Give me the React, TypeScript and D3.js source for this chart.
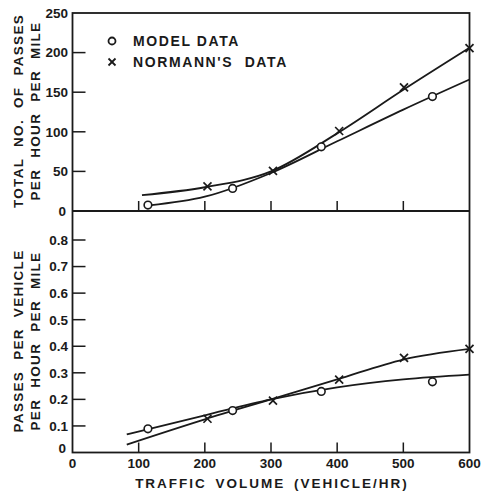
import React from "react";
import * as d3 from "d3";

// ---- data ----
const modelX = [114, 242, 376, 544];
const modelTotal = [7.5, 28.5, 81, 144.5];
const modelPerVeh = [0.089, 0.158, 0.23, 0.266];

const normannX = [204, 303, 403, 501, 600];
const normannTotal = [31, 50.6, 101, 156, 205.6];
const normannPerVeh = [0.127, 0.195, 0.274, 0.356, 0.39];

// fitted curves
const modelCurveTopX = [116, 200, 300, 400, 500, 600];
const modelCurveTopY = [7, 18, 48, 88, 128, 166];
const normannCurveTopX = [105, 200, 300, 400, 500, 600];
const normannCurveTopY = [20, 30, 50, 98, 153, 206];
const modelCurveBotX = [82, 200, 300, 400, 500, 600];
const modelCurveBotY = [0.068, 0.14, 0.2, 0.245, 0.275, 0.293];
const normannCurveBotX = [82, 200, 300, 400, 500, 600];
const normannCurveBotY = [0.03, 0.125, 0.2, 0.275, 0.35, 0.39];

const xTicks = [0, 100, 200, 300, 400, 500, 600];
const topTicks = [0, 50, 100, 150, 200, 250];
const botTicks = [0.1, 0.2, 0.3, 0.4, 0.5, 0.6, 0.7, 0.8];

const legendLabels = ["MODEL DATA", "NORMANN'S DATA"];

const INK = "#1a1a1a";
const FONT = "'Liberation Sans', Arial, sans-serif";

export default function App() {
  const left = 72.5, right = 469.5;
  const topY0 = 211, topY1 = 13;
  const botY0 = 452.5;
  const x = d3.scaleLinear().domain([0, 600]).range([left, right]);
  const yT = d3.scaleLinear().domain([0, 250]).range([topY0, topY1]);
  const yB = d3.scaleLinear().domain([0, 0.8]).range([botY0, 240]);

  const lineGen = (xs: number[], ys: number[], ys2: (v: number) => number) =>
    d3.line<number>()
      .x((_, i) => x(xs[i]))
      .y((v) => ys2(v))
      .curve(d3.curveMonotoneX)(ys) || "";

  const circles = (xs: number[], ys: number[], sy: (v: number) => number) =>
    xs.map((v, i) => (
      <circle key={"c" + i} cx={x(v)} cy={sy(ys[i])} r={3.8} fill="white" stroke={INK} strokeWidth={1.6} />
    ));
  const crosses = (xs: number[], ys: number[], sy: (v: number) => number) =>
    xs.map((v, i) => {
      const cx = x(v), cy = sy(ys[i]), s = 4;
      return (
        <g key={"x" + i} stroke={INK} strokeWidth={1.7}>
          <line x1={cx - s} y1={cy - s} x2={cx + s} y2={cy + s} />
          <line x1={cx - s} y1={cy + s} x2={cx + s} y2={cy - s} />
        </g>
      );
    });

  const textStyle = { fontFamily: FONT, fontWeight: 700, fill: INK } as const;

  return (
    <svg width={484} height={496} style={{ position: "absolute", left: 0, top: 0, background: "white" }}>
      <rect x={0} y={0} width={484} height={496} fill="white" />
      {/* frame */}
      <rect x={left} y={topY1} width={right - left} height={botY0 - topY1} fill="none" stroke={INK} strokeWidth={1.8} />
      <line x1={left} x2={right} y1={topY0} y2={topY0} stroke={INK} strokeWidth={1.8} />

      {/* top y ticks */}
      {topTicks.map((t) => (
        <g key={"tt" + t}>
          {t > 0 && t < 250 && <line x1={left} x2={left + 13} y1={yT(t)} y2={yT(t)} stroke={INK} strokeWidth={1.5} />}
          <text x={t === 0 ? 66 : 68} y={yT(t)} dy="0.36em" textAnchor="end" fontSize={13.5} {...textStyle}>{t}</text>
        </g>
      ))}
      {/* bottom y ticks */}
      {botTicks.map((t) => (
        <g key={"bt" + t}>
          <line x1={left} x2={left + 13} y1={yB(t)} y2={yB(t)} stroke={INK} strokeWidth={1.5} />
          <text x={68} y={yB(t)} dy="0.36em" textAnchor="end" fontSize={13.5} {...textStyle}>{d3.format(".1f")(t)}</text>
        </g>
      ))}
      <text x={66} y={yB(0) - 4} dy="0.36em" textAnchor="end" fontSize={13.5} {...textStyle}>0</text>

      {/* x ticks */}
      {xTicks.filter((t) => t > 0 && t < 600).map((t) => (
        <g key={"xt" + t}>
          <line x1={x(t)} x2={x(t)} y1={topY0} y2={topY0 - 10} stroke={INK} strokeWidth={1.5} />
          <line x1={x(t)} x2={x(t)} y1={botY0} y2={botY0 - 10} stroke={INK} strokeWidth={1.5} />
        </g>
      ))}
      {xTicks.map((t) => (
        <text key={"xl" + t} x={x(t)} y={468} textAnchor="middle" fontSize={13.5} {...textStyle}>{t}</text>
      ))}
      <text x={272} y={488} textAnchor="middle" fontSize={13.5} letterSpacing={2} wordSpacing={3} {...textStyle}>TRAFFIC VOLUME (VEHICLE/HR)</text>

      {/* y titles */}
      <text transform="translate(23,111) rotate(-90)" textAnchor="middle" fontSize={13.5} letterSpacing={1.3} wordSpacing={6} {...textStyle}>TOTAL NO. OF PASSES</text>
      <text transform="translate(40,111) rotate(-90)" textAnchor="middle" fontSize={13.5} letterSpacing={1.3} wordSpacing={6} {...textStyle}>PER HOUR PER MILE</text>
      <text transform="translate(23,341) rotate(-90)" textAnchor="middle" fontSize={13.5} letterSpacing={1.3} wordSpacing={6} {...textStyle}>PASSES PER VEHICLE</text>
      <text transform="translate(40,341) rotate(-90)" textAnchor="middle" fontSize={13.5} letterSpacing={1.3} wordSpacing={6} {...textStyle}>PER HOUR PER MILE</text>

      {/* curves */}
      <g fill="none" stroke={INK} strokeWidth={1.8}>
        <path d={lineGen(normannCurveTopX, normannCurveTopY, yT)} />
        <path d={lineGen(modelCurveTopX, modelCurveTopY, yT)} />
        <path d={lineGen(normannCurveBotX, normannCurveBotY, yB)} />
        <path d={lineGen(modelCurveBotX, modelCurveBotY, yB)} />
      </g>

      {/* markers */}
      {circles(modelX, modelTotal, yT)}
      {crosses(normannX, normannTotal, yT)}
      {circles(modelX, modelPerVeh, yB)}
      {crosses(normannX, normannPerVeh, yB)}

      {/* legend */}
      <circle cx={112} cy={41} r={3.5} fill="white" stroke={INK} strokeWidth={1.8} />
      <text x={133} y={41} dy="0.36em" fontSize={14} letterSpacing={1.6} {...textStyle}>{legendLabels[0]}</text>
      <g stroke={INK} strokeWidth={1.8}>
        <line x1={108.5} y1={58.5} x2={115.5} y2={65.5} />
        <line x1={108.5} y1={65.5} x2={115.5} y2={58.5} />
      </g>
      <text x={133} y={62} dy="0.36em" fontSize={14} letterSpacing={1.6} wordSpacing={6} {...textStyle}>{legendLabels[1]}</text>
    </svg>
  );
}
